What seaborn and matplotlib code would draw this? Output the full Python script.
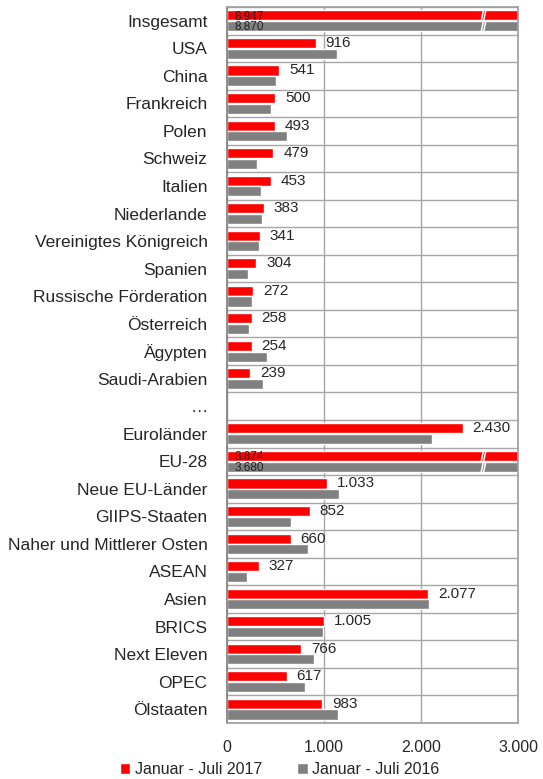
import numpy as np
import pandas as pd
import seaborn as sns
import matplotlib.pyplot as plt

# Daten
regionen = ["Insgesamt", "USA", "China", "Frankreich", "Polen", "Schweiz", "Italien",
            "Niederlande", "Vereinigtes Königreich", "Spanien", "Russische Förderation",
            "Österreich", "Ägypten", "Saudi-Arabien", "…", "Euroländer", "EU-28",
            "Neue EU-Länder", "GIIPS-Staaten", "Naher und Mittlerer Osten", "ASEAN",
            "Asien", "BRICS", "Next Eleven", "OPEC", "Ölstaaten"]
werte_2017 = [8947, 916, 541, 500, 493, 479, 453, 383, 341, 304, 272, 258, 254, 239, np.nan,
              2430, 3874, 1033, 852, 660, 327, 2077, 1005, 766, 617, 983]
werte_2016 = [8870, 1130, 502, 454, 615, 306, 347, 357, 333, 220, 258, 230, 412, 368, np.nan,
              2113, 3680, 1158, 656, 832, 210, 2082, 993, 900, 804, 1141]
zeitraeume = ["Januar - Juli 2017", "Januar - Juli 2016"]
farben = ["#ff0000", "#808080"]
x_max = 3000

df = pd.DataFrame({
    "Region": regionen * 2,
    "Wert": werte_2017 + werte_2016,
    "Zeitraum": [zeitraeume[0]] * len(regionen) + [zeitraeume[1]] * len(regionen),
}).dropna()

sns.set_theme(style="white")
plt.rcParams["font.family"] = ["Liberation Sans", "DejaVu Sans"]


def fmt(v):
    return f"{int(round(v)):,}".replace(",", ".")


fig = plt.figure(figsize=(5.43, 7.79), dpi=100)
ax = fig.add_axes([0.418, 0.072, 0.536, 0.919])

sns.barplot(data=df, y="Region", x="Wert", hue="Zeitraum", order=regionen,
            hue_order=zeitraeume, palette=farben, orient="h", width=0.78, gap=0.06,
            errorbar=None, ax=ax, saturation=1)

ax.set_xlim(0, x_max)
ax.set_ylim(len(regionen) - 0.5, -0.5)
ax.set_xticks([0, 1000, 2000, 3000])
ax.set_xticklabels([fmt(t) for t in [0, 1000, 2000, 3000]], fontsize=11.5)
ax.set_yticks(range(len(regionen)))
ax.set_yticklabels(regionen, fontsize=12.5)
ax.set_yticks(np.arange(-0.5, len(regionen)), minor=True)
ax.tick_params(which="both", length=0)
ax.tick_params(axis="y", pad=14)
ax.tick_params(axis="x", pad=12)
ax.xaxis.grid(True, color="#a6a6a6", lw=1)
ax.yaxis.grid(True, which="minor", color="#a6a6a6", lw=1)
ax.set_axisbelow(True)
for s in ax.spines.values():
    s.set_color("#a0a0a0")
ax.spines["left"].set_color("#808080")
ax.set_xlabel("")
ax.set_ylabel("")

# Wertbeschriftungen
rot = ax.containers[0]
labels = ["" if v > x_max else fmt(v) for v in rot.datavalues]
ax.bar_label(rot, labels=labels, padding=7, fontsize=11)

# Abgeschnittene Balken: Werte innen + Bruchzeichen
for cont in ax.containers:
    for patch, v in zip(cont.patches, cont.datavalues):
        if v > x_max:
            yc = patch.get_y() + patch.get_height() / 2
            ax.text(80, yc + 0.04, fmt(v), fontsize=8.5, va="center", ha="left",
                    color="#222222")
            y0, y1 = patch.get_y() + patch.get_height(), patch.get_y()
            for dx in (0, 25):
                ax.plot([2620 + dx, 2645 + dx], [y0 + 0.02, y1 - 0.02], color="white",
                        lw=1.1, solid_capstyle="butt", clip_on=True)

handles, labs = ax.get_legend_handles_labels()
ax.get_legend().remove()
fig.legend(handles, labs, loc="lower center", bbox_to_anchor=(0.515, -0.016), ncol=2,
           frameon=False, fontsize=11.5, handlelength=0.65, handleheight=0.65,
           handletextpad=0.3, columnspacing=2.2)

fig.savefig("out.png", dpi=100)
